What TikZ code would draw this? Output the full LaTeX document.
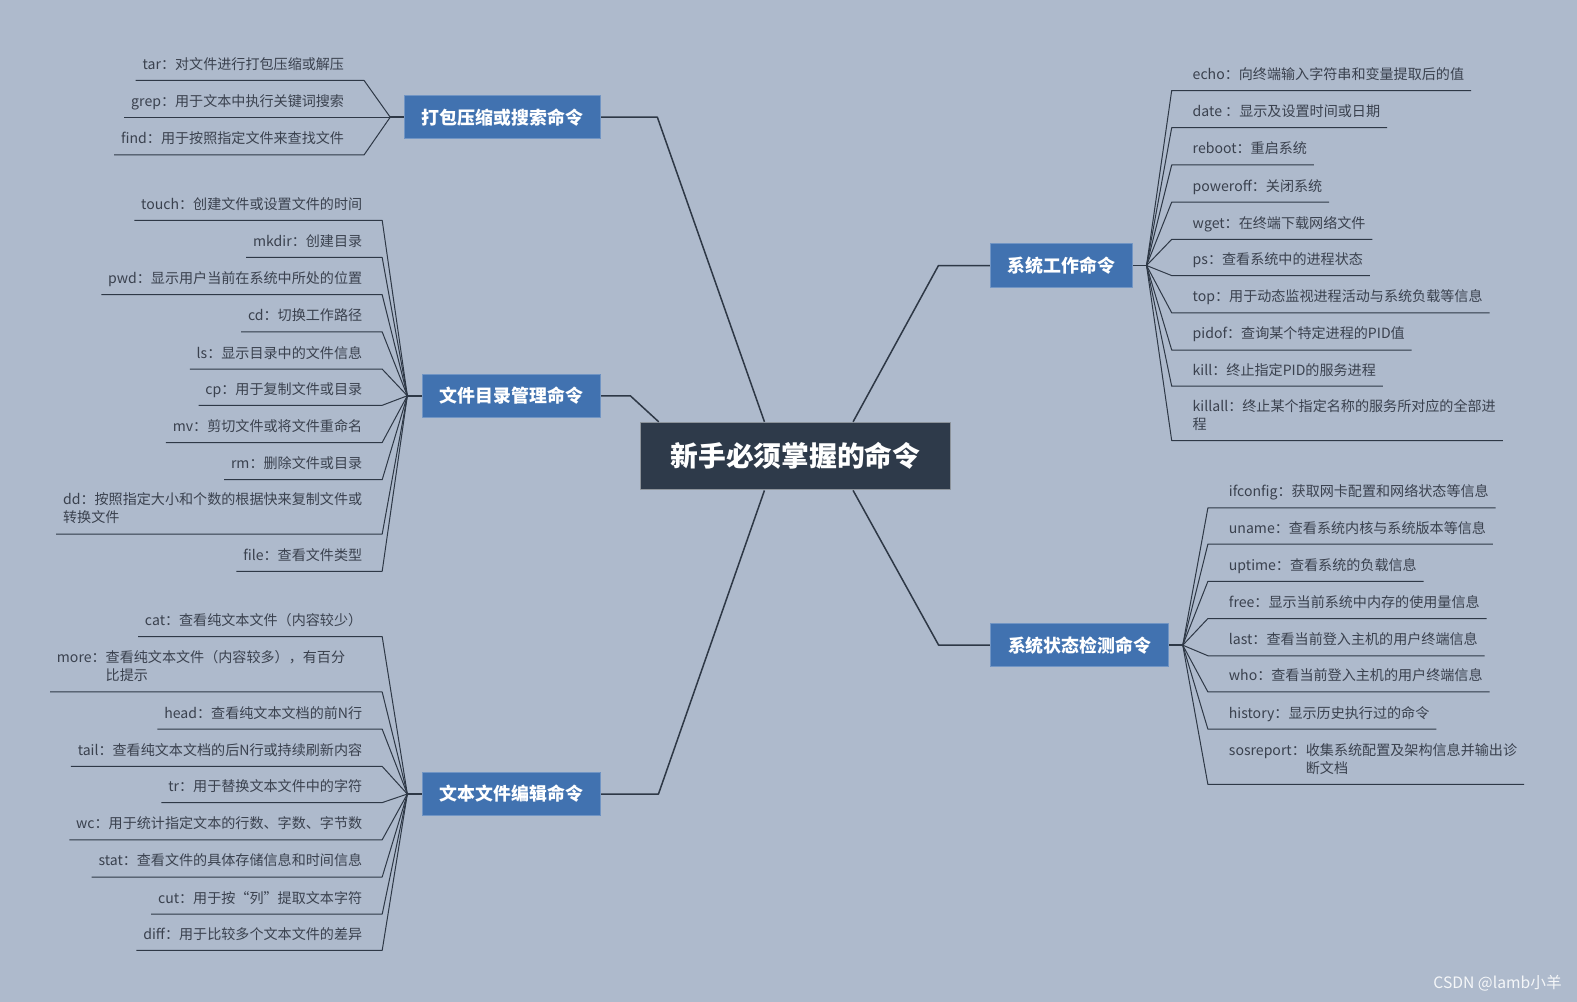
\documentclass[tikz,border=0pt]{standalone}
\usepackage{fontspec}
\setmainfont{Noto Sans CJK SC}
\usepackage{tikz}
\usetikzlibrary{positioning,calc}
\definecolor{mapbg}{RGB}{174,186,204}
\definecolor{mapdark}{RGB}{46,58,74}
\definecolor{mapblue}{RGB}{65,114,176}
\definecolor{maptext}{RGB}{58,65,78}
\definecolor{mapline}{RGB}{46,56,70}
\tikzset{
	mind map/.style={x=0.5pt, y=-0.5pt, line join=round},
	root/.style={fill=mapdark, draw=mapdark!55!white, line width=0.6pt, text=white,
		font=\fontsize{13.8}{16}\selectfont\bfseries,
		minimum width=154pt, minimum height=33.5pt},
	topic/.style={fill=mapblue, draw=mapblue!75!white, line width=0.5pt, text=white,
		font=\fontsize{8.9}{11}\selectfont\bfseries,
		inner xsep=8.75pt, minimum height=21.5pt},
	leaf/.style={text=maptext, font=\fontsize{7}{9}\selectfont,
		inner xsep=3.25pt, inner ysep=2.6pt, align=left,
		execute at begin node=\strut, execute at end node=\strut},
	leafl/.style={leaf, anchor=south east},
	leafr/.style={leaf, anchor=south west},
	branch/.style={draw=mapline, line width=0.75pt},
	twig/.style={draw=mapline, line width=0.5pt},
	watermark/.style={text=white!88!mapbg, font=\fontsize{7.8}{9}\selectfont}
}

\begin{document}
\begin{tikzpicture}[mind map]
	\fill[mapbg] (0,0) rectangle (1568,996);
	\useasboundingbox (0,0) rectangle (1568,996);
	\node[root] (root) at (791,453.5) {新手必须掌握的命令};
	\node[topic] (pack) at (499.5,116.5) {打包压缩或搜索命令};
	\node[topic] (file) at (508.5,393.5) {文件目录管理命令};
	\node[topic] (edit) at (508.5,789.5) {文本文件编辑命令};
	\node[topic] (sys) at (1055.5,264) {系统工作命令};
	\node[topic] (stat) at (1073.5,641.5) {系统状态检测命令};
	\coordinate (pack hub) at (388,116.5);
	\coordinate (file hub) at (405,393.5);
	\coordinate (edit hub) at (405,789.5);
	\coordinate (sys hub) at (1140,264);
	\coordinate (stat hub) at (1176,641.5);
	% root to topics
	\draw[branch] (pack.east) -- ++(56,0) -- ($(root.north west)!.4!(root.north east)$);
	\draw[branch] (file.east) -- ++(29,0) -- ($(root.north west)!.06!(root.north east)$);
	\draw[branch] (edit.east) -- ++(57,0) -- ($(root.south west)!.4!(root.south east)$);
	\draw[branch] (sys.west) -- ++(-51,0) -- ($(root.north west)!.685!(root.north east)$);
	\draw[branch] (stat.west) -- ++(-51,0) -- ($(root.south west)!.685!(root.south east)$);
	\draw[branch] (pack.west) -- (pack hub);
	\draw[branch] (file.west) -- (file hub);
	\draw[branch] (edit.west) -- (edit hub);
	\draw[branch] (sys.east) -- (sys hub);
	\draw[branch] (stat.east) -- (stat hub);
	% leaves
	\foreach \y/\txt [count=\i] in {80/{tar：对文件进行打包压缩或解压},
		116.5/{grep：用于文本中执行关键词搜索}, 154/{find：用于按照指定文件来查找文件}} {
		\coordinate (pack k\i) at (362,\y);
		\node[leafl] (pack l\i) at (349,\y) {\txt};
		\draw[twig] (pack hub) -- (pack k\i) -- (pack l\i.south west);
	}
	\foreach \y/\x/\txt [count=\i] in {219/367/{touch：创建文件或设置文件的时间},
		256/367/{mkdir：创建目录}, 293/367/{pwd：显示用户当前在系统中所处的位置},
		330/367/{cd：切换工作路径}, 367/367/{ls：显示目录中的文件信息},
		403/367/{cp：用于复制文件或目录}, 440/367/{mv：剪切文件或将文件重命名},
		477/367/{rm：删除文件或目录}, 531/367/{dd：按照指定大小和个数的根据快来复制文件或\\转换文件},
		568/367/{file：查看文件类型}} {
		\coordinate (file k\i) at (380,\y);
		\node[leafl] (file l\i) at (\x,\y) {\txt};
		\draw[twig] (file hub) -- (file k\i) -- (file l\i.south west);
	}
	\foreach \y/\x/\txt [count=\i] in {633/367/{cat：查看纯文本文件（内容较少）},
		688/350/{more：查看纯文本文件（内容较多），有百分\\\phantom{more：}比提示},
		725/367/{head：查看纯文本文档的前N行}, 762/367/{tail：查看纯文本文档的后N行或持续刷新内容},
		798/367/{tr：用于替换文本文件中的字符}, 835/367/{wc：用于统计指定文本的行数、字数、字节数},
		872/367/{stat：查看文件的具体存储信息和时间信息}, 909/367/{cut：用于按“列”提取文本字符},
		945/367/{diff：用于比较多个文本文件的差异}} {
		\coordinate (edit k\i) at (380,\y);
		\node[leafl] (edit l\i) at (\x,\y) {\txt};
		\draw[twig] (edit hub) -- (edit k\i) -- (edit l\i.south west);
	}
	\foreach \y/\txt [count=\i] in {90/{echo：向终端输入字符串和变量提取后的值},
		127/{date ：显示及设置时间或日期}, 164/{reboot：重启系统}, 201/{poweroff：关闭系统},
		238/{wget：在终端下载网络文件}, 274/{ps：查看系统中的进程状态},
		311/{top：用于动态监视进程活动与系统负载等信息}, 348/{pidof：查询某个特定进程的PID值},
		384/{kill：终止指定PID的服务进程}, 438/{killall：终止某个指定名称的服务所对应的全部进\\程}} {
		\coordinate (sys k\i) at (1165,\y);
		\node[leafr] (sys l\i) at (1179,\y) {\txt};
		\draw[twig] (sys hub) -- (sys k\i) -- (sys l\i.south east);
	}
	\foreach \y/\txt [count=\i] in {505/{ifconfig：获取网卡配置和网络状态等信息},
		541/{uname：查看系统内核与系统版本等信息}, 578/{uptime：查看系统的负载信息},
		615/{free：显示当前系统中内存的使用量信息}, 652/{last：查看当前登入主机的用户终端信息},
		688/{who：查看当前登入主机的用户终端信息}, 725/{history：显示历史执行过的命令},
		780/{sosreport：收集系统配置及架构信息并输出诊\\\phantom{sosreport：}断文档}} {
		\coordinate (stat k\i) at (1201,\y);
		\node[leafr] (stat l\i) at (1215,\y) {\txt};
		\draw[twig] (stat hub) -- (stat k\i) -- (stat l\i.south east);
	}
	\node[watermark] (credit) at (1489,978) {CSDN @lamb小羊};
\end{tikzpicture}
\end{document}
